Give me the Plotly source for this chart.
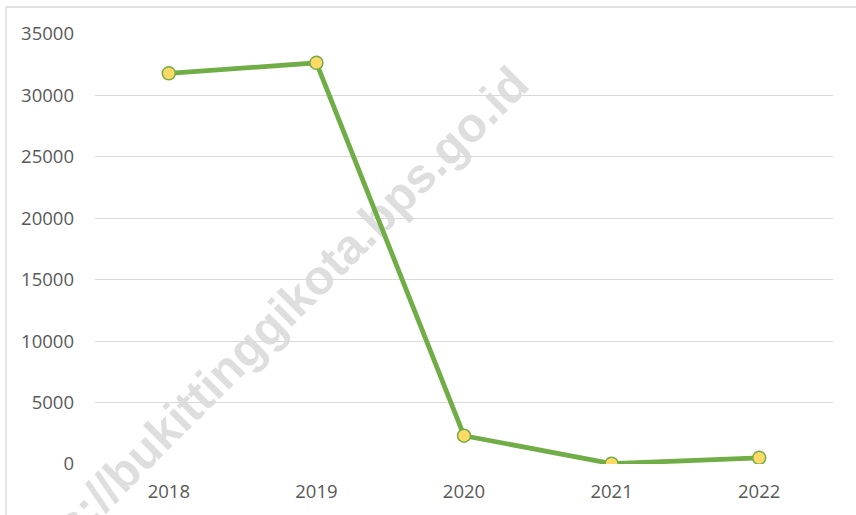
import plotly.graph_objects as go

years = ["2018", "2019", "2020", "2021", "2022"]
values = [31800, 32650, 2300, 30, 500]
y_ticks = [0, 5000, 10000, 15000, 20000, 25000, 30000, 35000]
watermark = "https://bukittinggikota.bps.go.id"

fig = go.Figure()
fig.add_trace(go.Scatter(
    x=years, y=values, mode="lines+markers",
    line=dict(color="#70AD47", width=4.8),
    marker=dict(size=13, color="#FFD966", line=dict(color="#70AD47", width=1.5)),
    showlegend=False,
))

font = dict(family="Open Sans, Liberation Sans, sans-serif", size=18.5, color="#595959")

fig.update_layout(
    width=856, height=515,
    margin=dict(l=95, r=23, t=34, b=51),
    paper_bgcolor="white", plot_bgcolor="white",
    font=font,
    xaxis=dict(type="category", range=[-0.5, 4.5], showgrid=False, zeroline=False, showline=False,
               ticks="", ticklabelstandoff=14, tickfont=font),
    yaxis=dict(range=[0, 35000], tickvals=y_ticks, tickformat="d",
               showgrid=True, gridcolor="#D9D9D9", gridwidth=1.3,
               zeroline=False, showline=False, ticks="", ticklabelstandoff=20,
               tickfont=font),
    shapes=[
        dict(type="line", xref="paper", yref="paper", x0=-0.1206, x1=1.2, y0=1.0628, y1=1.0628,
             line=dict(color="#D9D9D9", width=1.3)),
        dict(type="line", xref="paper", yref="paper", x0=-0.1206, x1=-0.1206, y0=-0.2, y1=1.0628,
             line=dict(color="#D9D9D9", width=1.3)),
        dict(type="line", xref="paper", yref="paper", x0=0.2170, x1=0.2171, y0=0.305, y1=0.305,
             layer="below", line=dict(width=0, color="rgba(0,0,0,0)"),
             label=dict(text=watermark, textangle=-45, textposition="middle",
                        xanchor="center", yanchor="middle", padding=0,
                        font=dict(family="Liberation Sans, Arial, sans-serif", size=48.5,
                                  color="rgba(190,190,190,0.5)", weight="bold"))),
    ],
)

fig.write_html("out.html", post_script="document.body.style.margin='0';",
               config={"displayModeBar": False})
